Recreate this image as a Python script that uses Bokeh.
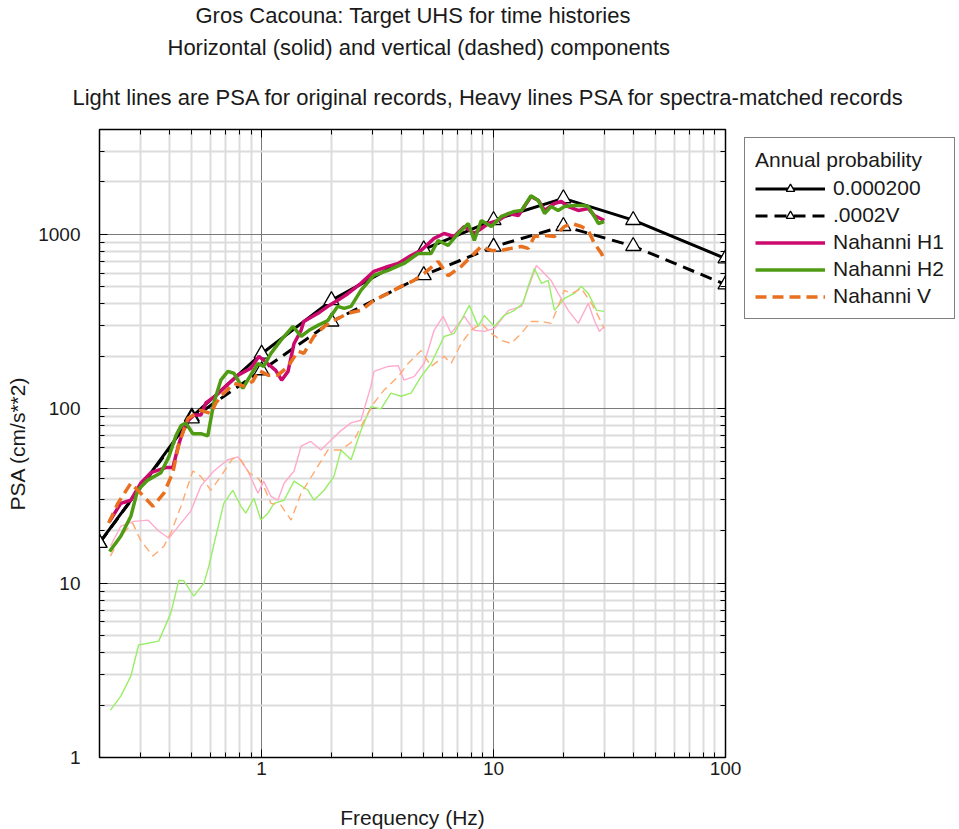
from bokeh.plotting import figure
from bokeh.layouts import column, row
from bokeh.models import (FixedTicker, LogAxis, Range1d, Title, Legend, LegendItem,
                          PrintfTickFormatter)
from bokeh.embed import file_html
from bokeh.resources import INLINE

FONT = "Liberation Sans"

# ---------------- data ----------------
target_freq = [0.2, 0.5, 1, 2, 5, 10, 20, 40, 100]
target_h = [17, 90, 207, 419, 820, 1208, 1610, 1208, 728]
target_v = [17, 88, 166, 316, 583, 850, 1116, 857, 516]

# heavy (spectra-matched) records
h1_f = [0.221, 0.247, 0.273, 0.301, 0.333, 0.386, 0.414, 0.440, 0.471, 0.510, 0.547, 0.575, 0.635, 0.701,
        0.791, 0.899, 0.973, 1.02, 1.15, 1.22, 1.30, 1.38, 1.48, 1.52, 1.75, 1.93, 2.13, 2.36, 2.68, 3.05,
        3.51, 3.88, 4.41, 4.87, 5.54, 6.12, 6.76, 7.48, 8.26, 9.49, 10.48, 11.6, 12.8, 14.5, 15.6, 16.6,
        18.3, 19.6, 21.0, 23.2, 25.6, 27.2, 30.0]
h1_psa = [22.6, 28.7, 29.9, 37.4, 43, 46, 46, 63, 83, 92, 92, 108, 119, 135, 156, 171, 200, 190, 166, 146,
          164, 237, 282, 317, 353, 387, 419, 459, 524, 614, 656, 682, 758, 810, 950, 1013, 974, 1111, 1013,
          1156, 1202, 1319, 1285, 1650, 1567, 1373, 1506, 1546, 1446, 1373, 1409, 1285, 1202]

h2_f = [0.221, 0.247, 0.273, 0.292, 0.323, 0.368, 0.398, 0.427, 0.449, 0.471, 0.505, 0.547, 0.586, 0.622,
        0.667, 0.715, 0.759, 0.830, 0.881, 0.964, 1.02, 1.097, 1.21, 1.365, 1.48, 1.60, 1.75, 1.93, 2.13,
        2.27, 2.43, 2.68, 3.05, 3.51, 4.11, 4.73, 5.38, 5.77, 6.37, 7.04, 7.78, 8.26, 8.85, 9.78, 10.8,
        12.3, 13.2, 14.5, 15.6, 16.6, 17.7, 19.0, 20.2, 22.3, 24.4, 25.6, 27.2, 28.3, 30.0]
h2_psa = [15.2, 18.6, 24.2, 34.1, 39, 43, 53, 70, 80, 83, 72, 72, 70, 108, 146, 164, 160, 131, 150, 182,
          175, 208, 247, 297, 260, 282, 301, 321, 387, 377, 387, 478, 582, 622, 682, 778, 778, 924, 865,
          1013, 1156, 924, 1202, 1111, 1268, 1355, 1373, 1670, 1567, 1319, 1446, 1373, 1446, 1466, 1466,
          1446, 1268, 1156, 1186]

v_f = [0.219, 0.240, 0.273, 0.301, 0.340, 0.379, 0.414, 0.440, 0.481, 0.547, 0.604, 0.635, 0.687, 0.759,
       0.839, 0.917, 0.973, 1.065, 1.175, 1.30, 1.435, 1.52, 1.68, 1.86, 2.05, 2.36, 2.68, 3.05, 3.51, 3.99,
       4.54, 5.02, 5.77, 6.37, 7.25, 8.01, 8.85, 9.78, 10.8, 11.9, 13.2, 14.1, 15.0, 16.6, 18.3, 20.2, 21.7,
       23.9, 25.6, 27.2, 29.2, 30.0]
v_psa = [22.1, 28.7, 37.4, 32.8, 27.6, 32.8, 43, 63, 88, 98, 94, 108, 123, 140, 135, 144, 166, 156, 156,
         175, 214, 208, 260, 297, 321, 353, 367, 419, 459, 504, 545, 598, 700, 580, 656, 748, 853, 810, 810,
         832, 853, 832, 974, 987, 974, 1111, 1156, 1111, 1054, 888, 778, 710]

# light (original) records
o1_f = [0.223, 0.247, 0.281, 0.323, 0.360, 0.398, 0.449, 0.495, 0.547, 0.622, 0.715, 0.791, 0.873, 0.964,
        1.02, 1.097, 1.175, 1.25, 1.38, 1.48, 1.63, 1.80, 1.99, 2.20, 2.43, 2.68, 2.96, 3.05, 3.51, 3.88,
        4.11, 4.54, 5.02, 5.54, 6.06, 6.56, 7.48, 8.26, 9.12, 10.07, 11.6, 13.2, 14.5, 15.3, 16.1, 17.7,
        19.0, 21.0, 23.2, 25.6, 27.2, 28.6, 30.0]
o1_psa = [16.3, 21.2, 22.6, 23.0, 19.9, 18.1, 22.1, 25.9, 36.0, 44, 51, 53, 44, 32.8, 38.5, 31.5, 29.9,
          37.4, 44, 61, 65, 58, 66, 75, 83, 86, 135, 164, 175, 177, 146, 153, 182, 282, 339, 271, 339, 282,
          278, 289, 367, 387, 545, 664, 622, 545, 459, 367, 309, 403, 321, 278, 297]

o2_f = [0.223, 0.247, 0.273, 0.295, 0.360, 0.406, 0.440, 0.462, 0.510, 0.564, 0.592, 0.635, 0.687, 0.751,
        0.814, 0.855, 0.926, 0.993, 1.065, 1.13, 1.25, 1.38, 1.585, 1.68, 1.86, 2.05, 2.20, 2.43, 2.68,
        2.96, 3.27, 3.61, 3.99, 4.41, 4.87, 5.38, 6.12, 6.76, 7.25, 7.86, 8.59, 9.12, 10.07, 11.1, 12.3,
        13.4, 14.1, 15.0, 16.1, 17.2, 18.3, 20.2, 22.3, 23.9, 25.6, 27.8, 30.0]
o2_psa = [1.87, 2.25, 2.93, 4.42, 4.65, 6.73, 10.4, 10.3, 8.43, 10.0, 12.5, 18.6, 28.7, 34.1, 27.6, 25.2,
          30.7, 23.0, 25.2, 28.7, 29.9, 38.5, 34.1, 29.9, 34.1, 41, 58, 51, 75, 103, 100, 123, 118, 123,
          153, 182, 260, 271, 321, 392, 297, 343, 297, 343, 367, 403, 504, 638, 524, 545, 367, 430, 459,
          504, 459, 367, 362]

ov_f = [0.223, 0.247, 0.278, 0.301, 0.340, 0.379, 0.406, 0.449, 0.505, 0.547, 0.604, 0.667, 0.751, 0.814,
        0.881, 0.964, 1.02, 1.097, 1.21, 1.34, 1.48, 1.68, 1.93, 2.20, 2.50, 2.77, 3.05, 3.37, 3.88, 4.28,
        4.87, 5.38, 6.12, 6.56, 7.25, 8.01, 8.85, 9.78, 10.8, 11.9, 13.2, 14.5, 16.1, 17.7, 18.7, 20.2,
        21.7, 23.9, 26.4, 28.3, 30.0]
ov_psa = [14.3, 18.6, 22.1, 17.6, 14.3, 16.3, 19.4, 27.6, 44, 41, 34.1, 41, 52, 51, 43, 40, 36.0, 28.7,
          28.0, 23.0, 32.8, 43, 58, 58, 66, 86, 108, 128, 153, 182, 216, 175, 200, 182, 237, 282, 309, 271,
          247, 237, 271, 317, 317, 309, 367, 478, 459, 491, 403, 339, 289]

x_major = [1, 10, 100]
x_minor = [0.2, 0.3, 0.4, 0.5, 0.6, 0.7, 0.8, 0.9, 2, 3, 4, 5, 6, 7, 8, 9, 20, 30, 40, 50, 60, 70, 80, 90]
y_major = [1, 10, 100, 1000]
y_minor = [2, 3, 4, 5, 6, 7, 8, 9, 20, 30, 40, 50, 60, 70, 80, 90, 200, 300, 400, 500, 600, 700, 800, 900,
           2000, 3000, 4000]

titles = ["Gros Cacouna: Target UHS for time histories",
          "Horizontal (solid) and vertical (dashed) components",
          "Light lines are PSA for original records, Heavy lines PSA for spectra-matched records"]
legend_title = "Annual probability"
legend_labels = ["0.000200", ".0002V", "Nahanni H1", "Nahanni H2", "Nahanni V"]

# colours
C_H1, C_H2, C_V = "#cc0a6e", "#4f9c14", "#e8701e"
C_H1L, C_H2L, C_VL = "#ffaacc", "#99ee66", "#ffaa70"
TXT = "#1a1a1a"

# styles shared by plot and legend
TARGET_LINE = dict(line_color="black", line_width=3)
TRI = dict(marker="triangle", size=15, fill_color="white", line_color="black", line_width=1.3)
H1_STYLE = dict(line_color=C_H1, line_width=3.5)
H2_STYLE = dict(line_color=C_H2, line_width=3.5)
V_STYLE = dict(line_color=C_V, line_width=3.5, line_dash="11 6")

# ---------------- title strip ----------------
pt = figure(frame_width=626, frame_height=1, min_border_left=99, min_border_right=234,
            min_border_top=126, min_border_bottom=0,
            x_range=Range1d(0, 1), y_range=Range1d(0, 1),
            x_axis_location=None, y_axis_location=None, outline_line_color=None,
            output_backend="svg", toolbar_location=None)
pt.grid.visible = False
title_standoffs = [0, 10, 36]
title_offsets = [96, 68, -27]
for i in (2, 1, 0):
    pt.add_layout(Title(text=titles[i], align="left", offset=title_offsets[i],
                        standoff=title_standoffs[i], text_font=FONT, text_font_size="22px",
                        text_font_style="normal", text_color=TXT), "above")

# ---------------- main figure ----------------
p = figure(frame_width=626, frame_height=628, min_border_left=99, min_border_right=17,
           min_border_top=1, min_border_bottom=74,
           x_axis_type="log", y_axis_type="log",
           x_range=Range1d(0.2, 100), y_range=Range1d(1, 4000),
           output_backend="svg", toolbar_location=None, background_fill_color="white")

bottom_ax = p.below[0]
left_ax = p.left[0]

xt = FixedTicker(ticks=x_major, minor_ticks=x_minor)
yt = FixedTicker(ticks=y_major, minor_ticks=y_minor)
bottom_ax.ticker = xt
left_ax.ticker = yt
p.xgrid.ticker = xt
p.ygrid.ticker = yt
p.grid.grid_line_color = "#7a7a7a"
p.grid.grid_line_width = 1
p.grid.minor_grid_line_color = "#dcdcdc"
p.grid.minor_grid_line_width = 2
p.outline_line_color = "black"
p.outline_line_width = 1.5

top_ax = LogAxis(ticker=xt)
right_ax = LogAxis(ticker=yt)
p.add_layout(top_ax, "above")
p.add_layout(right_ax, "right")

for ax in [bottom_ax, left_ax, top_ax, right_ax]:
    ax.formatter = PrintfTickFormatter(format="%d")
    ax.major_tick_in = 8
    ax.major_tick_out = 0
    ax.minor_tick_in = 5
    ax.minor_tick_out = 0
    ax.axis_line_color = "black"
    ax.major_tick_line_color = "black"
    ax.minor_tick_line_color = "black"
    ax.major_label_text_font = FONT
    ax.major_label_text_font_size = "19px"
    ax.major_label_text_color = TXT
    ax.axis_label_text_font = FONT
    ax.axis_label_text_font_size = "21px"
    ax.axis_label_text_font_style = "normal"
    ax.axis_label_text_color = TXT

for ax in [top_ax, right_ax]:
    ax.major_label_text_alpha = 0
    ax.major_label_text_font_size = "1px"
    ax.major_label_standoff = 0

bottom_ax.axis_label = "Frequency (Hz)"
left_ax.axis_label = "PSA (cm/s**2)"
bottom_ax.major_label_standoff = 4
bottom_ax.axis_label_standoff = 28
left_ax.major_label_standoff = 19
left_ax.axis_label_standoff = 6

# light lines
p.line(o1_f, o1_psa, line_color=C_H1L, line_width=1.4)
p.line(o2_f, o2_psa, line_color=C_H2L, line_width=1.4)
p.line(ov_f, ov_psa, line_color=C_VL, line_width=1.4, line_dash="8 5")

# target lines
p.line(target_freq, target_h, **TARGET_LINE)
p.line(target_freq, target_v, line_dash="12 7", **TARGET_LINE)
p.scatter(target_freq, target_h, **TRI)
p.scatter(target_freq, target_v, **TRI)

# heavy lines
p.line(h1_f, h1_psa, **H1_STYLE)
p.line(h2_f, h2_psa, **H2_STYLE)
p.line(v_f, v_psa, **V_STYLE)

# ---------------- legend panel (beside the frame) ----------------
# the same series are attached here (they fall outside this panel's 0..1 ranges, so only
# their legend samples are seen)
pl = figure(frame_width=217, frame_height=628, min_border_left=0, min_border_right=0,
            min_border_top=1, min_border_bottom=74,
            x_range=Range1d(0, 1), y_range=Range1d(0, 1),
            x_axis_location=None, y_axis_location=None, outline_line_color=None,
            output_backend="svg", toolbar_location=None)
pl.grid.visible = False
g_th = [pl.line(target_freq, target_h, **TARGET_LINE), pl.scatter(target_freq, target_h, **TRI)]
g_tv = [pl.line(target_freq, target_v, line_dash="12 7", **TARGET_LINE),
        pl.scatter(target_freq, target_v, **TRI)]
g_h1 = [pl.line(h1_f, h1_psa, **H1_STYLE)]
g_h2 = [pl.line(h2_f, h2_psa, **H2_STYLE)]
g_v = [pl.line(v_f, v_psa, **V_STYLE)]
items = [LegendItem(label=lab, renderers=rs)
         for lab, rs in zip(legend_labels, [g_th, g_tv, g_h1, g_h2, g_v])]
legend = Legend(items=items, title=legend_title, location=(2, 438),
                title_text_font=FONT, title_text_font_size="21px", title_text_font_style="normal",
                title_text_color=TXT, title_standoff=4,
                label_text_font=FONT, label_text_font_size="21px", label_text_color=TXT,
                label_height=21, glyph_height=21, glyph_width=70, label_standoff=8, spacing=3,
                padding=10, margin=0, border_line_color="black", border_line_width=1.3,
                background_fill_color="white", background_fill_alpha=1)
pl.add_layout(legend)

layout = column(pt, row(p, pl, spacing=0), spacing=0)
open("out.html", "w").write(file_html(layout, INLINE))
